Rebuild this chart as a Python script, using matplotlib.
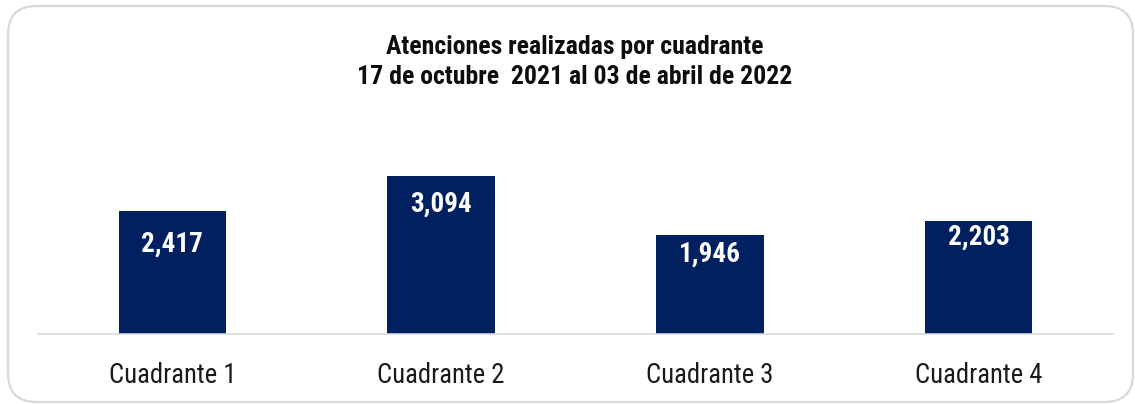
import matplotlib.pyplot as plt
from matplotlib import font_manager
from matplotlib.patches import FancyBboxPatch

# data
categorias = ['Cuadrante 1', 'Cuadrante 2', 'Cuadrante 3', 'Cuadrante 4']
atenciones = [2417, 3094, 1946, 2203]
titulo = 'Atenciones realizadas por cuadrante\n17 de octubre  2021 al 03 de abril de 2022'

# pick a condensed font if there is one
nombres = {f.name for f in font_manager.fontManager.ttflist}
fuente = 'Roboto'
for cand in ['Roboto Condensed', 'Liberation Sans Narrow', 'Roboto']:
    if cand in nombres:
        fuente = cand
        break
plt.rcParams['font.family'] = [fuente, 'DejaVu Sans']

W, H = 1135, 404
fig = plt.figure(figsize=(W / 100, H / 100), dpi=100)

# rounded frame around the chart
caja = FancyBboxPatch((8 / W, (H - 402) / H), (1133 - 8) / W, (402 - 6) / H,
                      boxstyle='round,pad=0,rounding_size=0.025',
                      transform=fig.transFigure, facecolor='white',
                      edgecolor='#d9d9d9', linewidth=1.6, mutation_aspect=W / H,
                      zorder=-1)
fig.patches.append(caja)

ax = fig.add_axes([38 / W, (H - 334) / H, (1113 - 38) / W, (334 - 110) / H])
ax.set_facecolor('none')
barras = ax.bar(range(len(categorias)), atenciones, width=0.4, color='#002060')
ax.set_xlim(-0.5, len(categorias) - 0.5)
ax.set_ylim(0, 4386)

# value labels inside the bars
bajadas = [-24, -20, -14, -11]
for i, v in enumerate(atenciones):
    ax.annotate(f'{v:,}', (i, v), xytext=(0, bajadas[i]), textcoords='offset points',
                ha='center', va='center', color='white', fontsize=19.5, fontweight='bold')

for s in ['top', 'right', 'left']:
    ax.spines[s].set_visible(False)
ax.spines['bottom'].set_color('#d9d9d9')
ax.spines['bottom'].set_linewidth(1.2)
ax.set_yticks([])
ax.set_xticks(range(len(categorias)))
ax.set_xticklabels(categorias, fontsize=19.2, color='#1a1a1a')
ax.tick_params(axis='x', length=0, pad=20.5)

fig.text(575 / W, 1 - 62 / H, titulo, ha='center', va='center', fontsize=18.5,
         fontweight='bold', linespacing=1.35, color='#0d0d0d')

fig.savefig('out.png', dpi=100)
